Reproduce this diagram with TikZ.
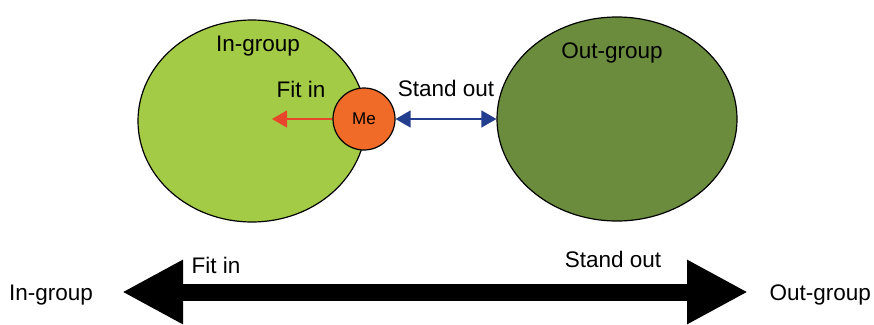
\documentclass[tikz,border=0pt]{standalone}
\usepackage{fontspec}
\setmainfont{Liberation Sans}
\usetikzlibrary{arrows.meta,shapes.geometric}
\definecolor{ingreen}{HTML}{A3CB46}
\definecolor{outgreen}{HTML}{6A8C3C}
\definecolor{meorange}{HTML}{F06A28}
\definecolor{fitred}{HTML}{E8462A}
\definecolor{standblue}{HTML}{233E8F}
\tikzset{
  grp/.style={ellipse, draw=black, line width=1.2pt, inner sep=0pt},
  lbl/.style={font=\fontsize{22.5}{26}\selectfont, inner sep=0pt},
  smallarrow/.style={line width=1.3pt, -{Triangle[length=15pt,width=17pt]}},
}
\begin{document}
\begin{tikzpicture}[x=1pt,y=-1pt]
\useasboundingbox (0,0) rectangle (874,324);
\node[grp, fill=ingreen, minimum width=228pt, minimum height=202pt] (ingrp) at (252,121) {};
\node[grp, fill=outgreen, minimum width=240pt, minimum height=204pt] (outgrp) at (617,119) {};
\node[circle, draw=black, line width=1.2pt, fill=meorange, minimum size=62pt, inner sep=0pt,
  font=\fontsize{17}{20}\selectfont] (me) at (364,119) {Me};
\coordinate (fittip) at (272,119);
\draw[smallarrow, fitred] (me) -- (fittip);
\draw[smallarrow, standblue, {Triangle[length=15pt,width=17pt]}-{Triangle[length=15pt,width=17pt]}] (me) -- (outgrp);
\node[lbl] (t1) at (258,46) {In-group};
\node[lbl] (t2) at (301,89) {Fit in};
\node[lbl] (t3) at (446,88) {Stand out};
\node[lbl] (t4) at (612,53) {Out-group};
% bottom scale
\coordinate (bl) at (122,292);
\coordinate (br) at (748,292);
\draw[line width=17pt, {Triangle[length=61pt,width=60pt]}-{Triangle[length=61pt,width=60pt]}] (bl) -- (br);
\node[lbl, anchor=west] (b1) at (9,295) {In-group};
\node[lbl, anchor=east] (b2) at (871,295) {Out-group};
\node[lbl] (b3) at (216,265) {Fit in};
\node[lbl] (b4) at (613,259) {Stand out};
\end{tikzpicture}
\end{document}
